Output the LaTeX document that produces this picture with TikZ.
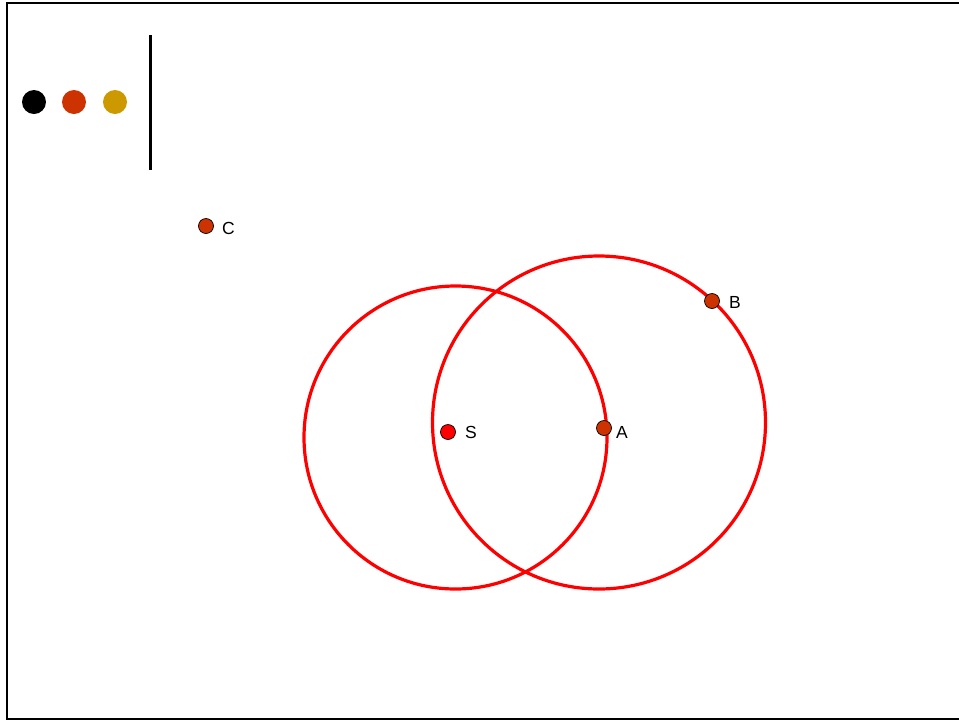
\documentclass[tikz,border=0pt]{standalone}
\usepackage{fontspec}
\setmainfont{Liberation Sans}
\begin{document}
\begin{tikzpicture}[x=1pt,y=-1pt,
  pt/.style={circle,draw=black,line width=0.7pt,inner sep=0pt,minimum size=15pt},
  lab/.style={font=\fontsize{17.5}{20}\selectfont,anchor=west,inner sep=0pt},
  circ/.style={draw=red,line width=3.2pt}]
\definecolor{rust}{HTML}{CC3300}
\definecolor{gold}{HTML}{CC9900}
\useasboundingbox (0,0) rectangle (959,721);
\fill[white] (0,0) rectangle (959,721);
% frame
\draw[line width=2pt] (962,3) -- (7,3) -- (7,719) -- (962,719);
% legend
\fill[black] (34,102) circle (12);
\fill[rust] (74,102) circle (12);
\fill[gold] (115,102) circle (12);
\draw[line width=3pt] (150,35) -- (150,170);
% circles
\node[circ,circle,minimum size=303pt,inner sep=0pt] (c1) at (455.5,437.5) {};
\node[circ,circle,minimum size=333pt,inner sep=0pt] (c2) at (599,422.5) {};
% points
\node[pt,fill=rust] (C) at (206,226) {};
\node[lab] (Cl) at (222,228) {C};
\node[pt,fill=rust] (B) at (712,301) {};
\node[lab] (Bl) at (729,302) {B};
\node[pt,fill=red] (S) at (448,432) {};
\node[lab] (Sl) at (465,432) {S};
\node[pt,fill=rust] (A) at (604,428) {};
\node[lab] (Al) at (616,432) {A};
\end{tikzpicture}
\end{document}
